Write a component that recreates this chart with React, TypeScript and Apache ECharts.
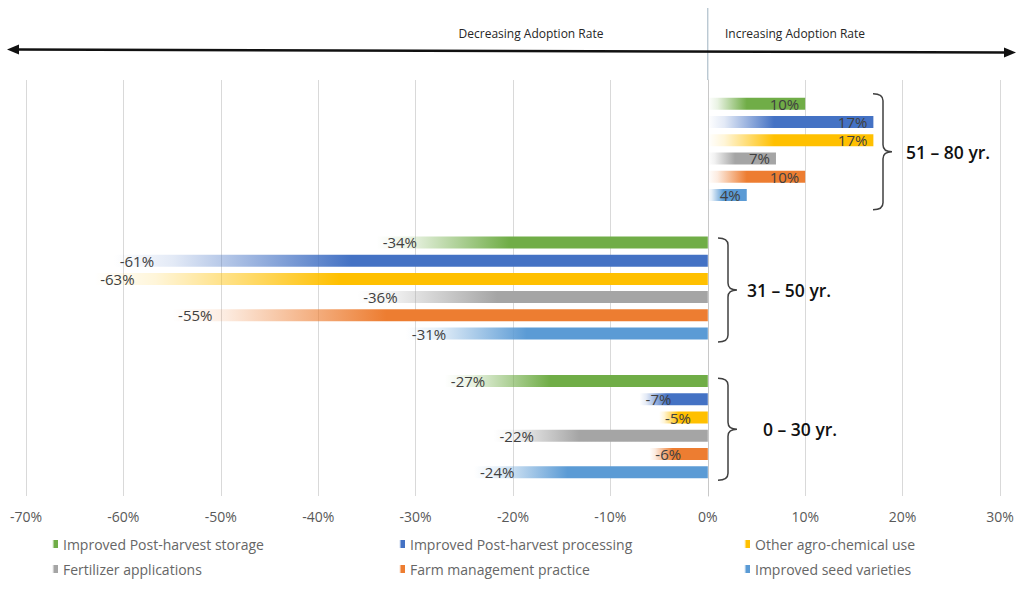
import React, { useEffect, useRef } from "react";
import * as echarts from "echarts";

const categories = ["51 – 80 yr.", "31 – 50 yr.", "0 – 30 yr."];
const seriesNames = [
  "Improved Post-harvest storage",
  "Improved Post-harvest processing",
  "Other agro-chemical use",
  "Fertilizer applications",
  "Farm management practice",
  "Improved seed varieties",
];
const storage = [10, -34, -27];
const processing = [17, -61, -7];
const agroChemical = [17, -63, -5];
const fertilizer = [7, -36, -22];
const farmManagement = [10, -55, -6];
const seedVarieties = [4, -31, -24];
const seriesValues = [storage, processing, agroChemical, fertilizer, farmManagement, seedVarieties];
const colors = ["#70AD47", "#4472C4", "#FFC000", "#A5A5A5", "#ED7D31", "#5B9BD5"];
const xTicks = { min: -70, max: 30, interval: 10 };

// annotation layout (braces)
const braceX = [873, 718, 718];
const braceHalf = [58, 52, 51];
const braceShift = [2.5, 2, 2.5];
const braceLabelX = [906, 747, 763];

const FONT = "'Open Sans', 'Noto Sans', sans-serif";

let braceRegistered = false;
function registerBrace() {
  if (braceRegistered) return;
  braceRegistered = true;
  const Brace = (echarts.graphic as any).extendShape({
    shape: { x: 0, y1: 0, y2: 0, w: 10 },
    buildPath(ctx: any, s: any) {
      const { x, y1, y2, w } = s;
      const m = (y1 + y2) / 2;
      const r = 7;
      ctx.moveTo(x, y1);
      ctx.quadraticCurveTo(x + w, y1, x + w, y1 + r);
      ctx.lineTo(x + w, m - r);
      ctx.quadraticCurveTo(x + w, m, x + w * 1.9, m);
      ctx.moveTo(x + w * 1.9, m);
      ctx.quadraticCurveTo(x + w, m, x + w, m + r);
      ctx.lineTo(x + w, y2 - r);
      ctx.quadraticCurveTo(x + w, y2, x, y2);
    },
  });
  (echarts.graphic as any).registerShape("brace", Brace);
}

function hexToRgba(hex: string, a: number) {
  const n = parseInt(hex.slice(1), 16);
  return `rgba(${(n >> 16) & 255},${(n >> 8) & 255},${n & 255},${a})`;
}

export default function App() {
  const ref = useRef<HTMLDivElement>(null);
  useEffect(() => {
    if (!ref.current) return;
    registerBrace();
    const chart = echarts.init(ref.current, undefined, { renderer: "svg" });

    const legendLeft = [52, 399, 744, 52, 399, 744];
    const legendTop = [537, 537, 537, 562, 562, 562];

    const option: any = {
      animation: false,
      textStyle: { fontFamily: FONT },
      grid: { left: 26, right: 21, top: 80, bottom: 93 },
      xAxis: {
        type: "value",
        min: xTicks.min,
        max: xTicks.max,
        interval: xTicks.interval,
        axisLine: { show: false },
        axisTick: { show: false },
        splitLine: { lineStyle: { color: "#d9d9d9", width: 1 } },
        axisLabel: {
          formatter: "{value}%",
          color: "#595959",
          fontSize: 14,
          fontFamily: FONT,
          margin: 13,
        },
      },
      yAxis: {
        type: "category",
        data: categories,
        inverse: true,
        axisLabel: { show: false },
        axisTick: { show: false },
        axisLine: { show: true, onZero: true, lineStyle: { color: "#c8c8c8", width: 1 } },
        splitLine: { show: false },
      },
      legend: seriesNames.map((name, i) => ({
        data: [name],
        left: legendLeft[i],
        top: legendTop[i],
        icon: "rect",
        itemWidth: 6,
        itemHeight: 8,
        itemGap: 0,
        padding: 0,
        textStyle: { color: "#666666", fontSize: 14, fontFamily: FONT },
      })),
      series: seriesNames.map((name, i) => ({
        name,
        type: "bar",
        barWidth: 12,
        barGap: "52%",
        itemStyle: {
          color: new echarts.graphic.LinearGradient(0, 0, 1, 0, [
            { offset: 0, color: hexToRgba(colors[i], 0) },
            { offset: 0.1, color: hexToRgba(colors[i], 0.15) },
            { offset: 0.4, color: hexToRgba(colors[i], 1) },
            { offset: 1, color: hexToRgba(colors[i], 1) },
          ]),
        },
        data: seriesValues[i].map((v) => ({
          value: v,
          label: {
            show: true,
            position: v < 0 ? "insideLeft" : "insideRight",
            distance: 6,
            formatter: (p: any) => `${p.value}%`,
            color: "#404040",
            fontSize: 15,
            fontFamily: FONT,
          },
        })),
      })),
    };
    chart.setOption(option);

    const x0 = chart.convertToPixel({ xAxisIndex: 0 }, 0) as number;
    const graphics: any[] = [
      {
        type: "line",
        shape: { x1: x0, y1: 8, x2: x0, y2: 80 },
        style: { stroke: "#9fb3c0", lineWidth: 1 },
      },
      {
        type: "line",
        shape: { x1: 16, y1: 49.5, x2: 1007, y2: 52.5 },
        style: { stroke: "#111", lineWidth: 2.5 },
      },
      {
        type: "polygon",
        shape: { points: [[7, 49.5], [19, 44.5], [19, 54.5]] },
        style: { fill: "#111" },
      },
      {
        type: "polygon",
        shape: { points: [[1016, 52.5], [1004, 47.5], [1004, 57.5]] },
        style: { fill: "#111" },
      },
      {
        type: "text",
        x: 531,
        y: 33,
        style: {
          text: "Decreasing Adoption Rate",
          fill: "#262626",
          fontSize: 12,
          fontFamily: FONT,
          align: "center",
          verticalAlign: "middle",
        },
      },
      {
        type: "text",
        x: 795,
        y: 33,
        style: {
          text: "Increasing Adoption Rate",
          fill: "#262626",
          fontSize: 12,
          fontFamily: FONT,
          align: "center",
          verticalAlign: "middle",
        },
      },
    ];
    categories.forEach((c, i) => {
      const yc = (chart.convertToPixel({ yAxisIndex: 0 }, c) as number) + braceShift[i];
      graphics.push({
        type: "brace",
        shape: { x: braceX[i], y1: yc - braceHalf[i], y2: yc + braceHalf[i], w: 10 },
        style: { fill: "none", stroke: "#404040", lineWidth: 1.5 },
      });
      graphics.push({
        type: "text",
        x: braceLabelX[i],
        y: yc,
        style: {
          text: c,
          fill: "#111",
          fontSize: 17.5,
          fontWeight: 600,
          fontFamily: FONT,
          align: "left",
          verticalAlign: "middle",
        },
      });
    });
    chart.setOption({ graphic: graphics });

    return () => chart.dispose();
  }, []);
  return (
    <div
      ref={ref}
      style={{ position: "fixed", left: 0, top: 0, width: 1021, height: 589, background: "#fff" }}
    />
  );
}
